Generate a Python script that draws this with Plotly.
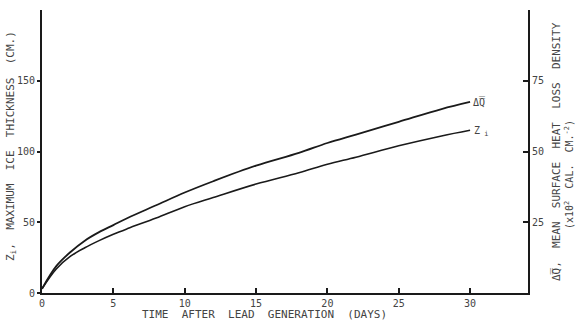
import plotly.graph_objects as go

# Data
days = [0, 1, 2, 3, 4, 5, 6, 8, 10, 12, 15, 18, 20, 22, 25, 28, 30]
# Z_i, maximum ice thickness (cm) - left axis
zi_cm = [3, 17, 26, 32, 37, 41.5, 45.5, 53, 61, 67.5, 77, 85, 91, 96, 104, 111, 115]
# mean surface heat loss density (x10^2 cal cm^-2) - right axis
dq = [1.5, 9.5, 14.5, 18.5, 21.5, 24, 26.5, 31, 35.5, 39.5, 45, 49.5, 53, 56, 60.5, 65, 67.5]

x_ticks = [0, 5, 10, 15, 20, 25, 30]
y_left_ticks = [0, 50, 100, 150]
y_right_ticks = [25, 50, 75]

ink = "#1a1a1a"
txt = "#444444"
mono = "DejaVu Sans Mono"

W, H = 580, 322
L, R, T, B = 42, 52, 10, 29

fig = go.Figure()
fig.add_trace(go.Scatter(x=days, y=zi_cm, mode="lines", line=dict(color=ink, width=1.6, shape="spline"),
                         yaxis="y", showlegend=False))
fig.add_trace(go.Scatter(x=days, y=dq, mode="lines", line=dict(color=ink, width=1.8, shape="spline"),
                         yaxis="y2", showlegend=False))

fig.update_layout(
    width=W, height=H,
    margin=dict(l=L, r=R, t=T, b=B, autoexpand=False),
    paper_bgcolor="white", plot_bgcolor="white",
    font=dict(family=mono, size=10, color=txt),
    xaxis=dict(range=[0, 34.06], tickvals=x_ticks, ticktext=[str(v) for v in x_ticks],
               ticks="inside", ticklen=5, tickwidth=1.5, tickcolor=ink, automargin=False,
               showline=True, linewidth=2, linecolor=ink, showgrid=False, zeroline=False,
               tickfont=dict(family=mono, size=10, color=txt)),
    yaxis=dict(range=[0, 200], tickvals=y_left_ticks, ticktext=[str(v) for v in y_left_ticks],
               ticks="outside", ticklen=3, tickwidth=1.5, tickcolor=ink, automargin=False,
               showline=True, linewidth=2, linecolor=ink, showgrid=False, zeroline=False,
               tickfont=dict(family=mono, size=10, color=txt)),
    yaxis2=dict(range=[0, 100], tickvals=y_right_ticks, ticktext=[str(v) for v in y_right_ticks],
                overlaying="y", side="right", automargin=False,
                ticks="inside", ticklen=5, tickwidth=1.5, tickcolor=ink,
                showline=True, linewidth=2, linecolor=ink, showgrid=False, zeroline=False,
                tickfont=dict(family=mono, size=10, color=txt)),
)

# positions given in window pixels
ann = [
    dict(text="TIME  AFTER  LEAD  GENERATION  (DAYS)", x=264, y=314, size=11),
    dict(text="Z<sub>i</sub>,  MAXIMUM  ICE  THICKNESS  (CM.)", x=11, y=146, textangle=-90, size=11),
    dict(text="Δ̅Q̅,  MEAN  SURFACE  HEAT  LOSS  DENSITY", x=556, y=152, textangle=-90, size=11),
    dict(text="(x10<sup>2</sup>  CAL.  CM.<sup>-2</sup>)", x=569, y=175, textangle=-90, size=10),
    dict(text="Δ̅Q̅", x=479, y=102, size=10),
    dict(text="Z<sub> i</sub>", x=481, y=131, size=10),
]
for a in ann:
    fig.add_annotation(text=a["text"], xref="paper", yref="paper",
                       x=(a["x"] - L) / (W - L - R), y=(H - B - a["y"]) / (H - T - B),
                       xanchor="center", yanchor="middle", showarrow=False,
                       textangle=a.get("textangle", 0),
                       font=dict(family=mono, size=a["size"], color=txt))

fig.write_html("out.html", config={"displayModeBar": False},
               post_script="document.body.style.margin='0';document.body.style.padding='0';")
